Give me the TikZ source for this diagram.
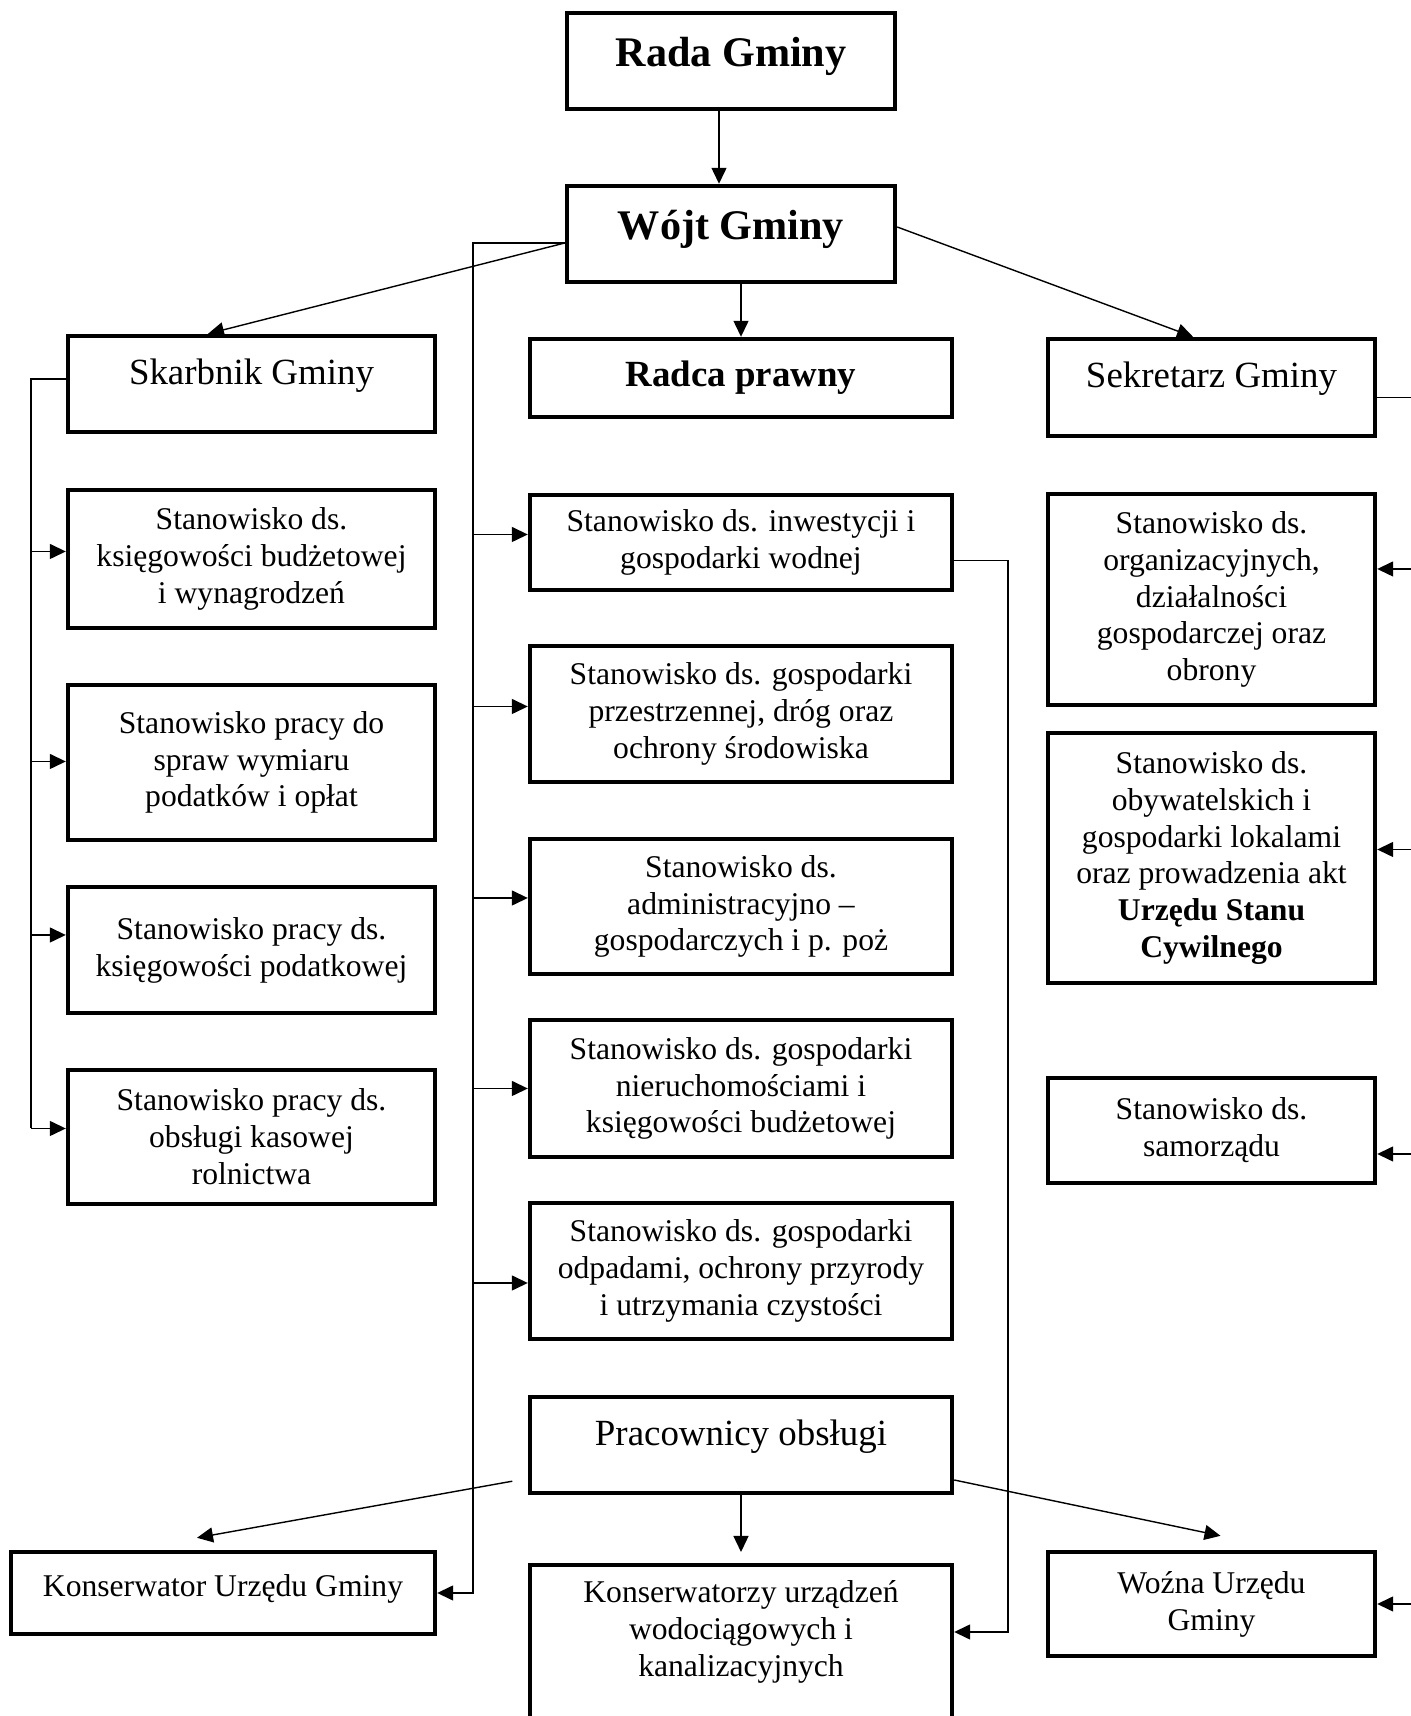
\documentclass[tikz,border=0pt]{standalone}
\usepackage{fontspec}
\setmainfont{Liberation Serif}
\usetikzlibrary{arrows.meta}

\begin{document}
\begin{tikzpicture}[
    box/.style={rectangle, draw=black, line width=2.5pt, fill=white,
        inner sep=2pt, align=center, font=\fontsize{18}{21}\selectfont},
    head/.style={box, font=\fontsize{24}{28}\selectfont\bfseries,
        minimum width=6.56cm, minimum height=1.92cm, text depth=0.35cm},
    chief/.style={box, font=\fontsize{21}{25}\selectfont},
    lbox/.style={box, minimum width=7.34cm},
    mbox/.style={box, minimum width=8.44cm},
    rbox/.style={box, minimum width=6.54cm},
    txt/.style={align=center, font=\fontsize{18}{21}\selectfont},
    edge/.style={line width=0.8pt, -},
    arrow/.style={line width=0.8pt, -{Triangle[length=0.32cm, width=0.3cm]}}
]
    \useasboundingbox (0,0) rectangle (28.2,34.32);

    \node[head] (rada) at (14.62,33.10) {Rada Gminy};
    \node[head] (wojt) at (14.62,29.64) {Wójt Gminy};
    \node[chief, minimum width=7.34cm, minimum height=1.92cm,
        text depth=0.5cm] (skarb) at (5.03,26.64) {Skarbnik Gminy};
    \node[chief, font=\fontsize{21}{25}\selectfont\bfseries,
        minimum width=8.44cm, minimum height=1.56cm] (radca) at (14.82,26.76) {Radca prawny};
    \node[chief, minimum width=6.54cm, minimum height=1.94cm,
        text depth=0.5cm] (sekr) at (24.23,26.57) {Sekretarz Gminy};

    % left column
    \node[lbox, minimum height=2.76cm] (l1) at (5.03,23.14)
        {Stanowisko ds.\\ księgowości budżetowej\\ i wynagrodzeń};
    \node[lbox, minimum height=3.10cm] (l2) at (5.03,19.07)
        {Stanowisko pracy do\\ spraw wymiaru\\ podatków i opłat};
    \node[lbox, minimum height=2.52cm] (l3) at (5.03,15.32)
        {Stanowisko pracy ds.\\ księgowości podatkowej};
    \node[lbox, minimum height=2.68cm] (l4) at (5.03,11.58)
        {Stanowisko pracy ds.\\ obsługi kasowej\\ rolnictwa};
    \node[box, minimum width=8.48cm, minimum height=1.64cm,
        text depth=0.3cm] (kug) at (4.46,2.46) {Konserwator Urzędu Gminy};

    % middle column
    \node[mbox, minimum height=1.90cm] (m1) at (14.82,23.47)
        {Stanowisko ds. inwestycji i\\ gospodarki wodnej};
    \node[mbox, minimum height=2.72cm] (m2) at (14.82,20.04)
        {Stanowisko ds. gospodarki\\ przestrzennej, dróg oraz\\ ochrony środowiska};
    \node[mbox, minimum height=2.70cm] (m3) at (14.82,16.19)
        {Stanowisko ds.\\ administracyjno –\\ gospodarczych i p. poż};
    \node[mbox, minimum height=2.74cm] (m4) at (14.82,12.55)
        {Stanowisko ds. gospodarki\\ nieruchomościami i\\ księgowości budżetowej};
    \node[mbox, minimum height=2.72cm] (m5) at (14.82,8.90)
        {Stanowisko ds. gospodarki\\ odpadami, ochrony przyrody\\ i utrzymania czystości};
    \node[chief, minimum width=8.44cm, minimum height=1.92cm,
        text depth=0.5cm] (prac) at (14.82,5.42) {Pracownicy obsługi};
    \node[mbox, minimum height=3.6cm, anchor=north] (kwod) at (14.82,3.06) {};
    \node[txt] (kwodtxt) at (14.82,1.68)
        {Konserwatorzy urządzeń\\ wodociągowych i\\ kanalizacyjnych};

    % right column
    \node[rbox, minimum height=4.22cm] (r1) at (24.23,22.33)
        {Stanowisko ds.\\ organizacyjnych,\\ działalności\\ gospodarczej oraz\\ obrony};
    \node[rbox, minimum height=5.00cm] (r2) at (24.23,17.16)
        {Stanowisko ds.\\ obywatelskich i\\ gospodarki lokalami\\ oraz prowadzenia akt\\
        \textbf{Urzędu Stanu}\\ \textbf{Cywilnego}};
    \node[rbox, minimum height=2.10cm] (r3) at (24.23,11.71)
        {Stanowisko ds.\\ samorządu};
    \node[rbox, minimum height=2.08cm] (wozna) at (24.23,2.24)
        {Woźna Urzędu\\ Gminy};

    % top links
    \draw[arrow] ([xshift=-0.24cm]rada.south) -- ([xshift=-0.24cm]wojt.north);
    \draw[arrow] (wojt.south -| radca.north) -- (radca.north);
    \coordinate (wl) at ([yshift=-0.18cm]wojt.west);
    \coordinate (wr) at ([yshift=0.14cm]wojt.east);
    \draw[arrow] (wl) -- ([xshift=-0.87cm]skarb.north);
    \draw[arrow] (wr) -- ([xshift=-0.37cm]sekr.north);

    % Skarbnik bus
    \coordinate (sbus) at (0.62,0);
    \coordinate (l1in) at ([yshift=0.15cm]l1.west);
    \coordinate (l2in) at ([yshift=0.02cm]l2.west);
    \coordinate (l3in) at ([yshift=0.3cm]l3.west);
    \coordinate (l4in) at ([yshift=0.17cm]l4.west);
    \draw[edge] ([yshift=0.1cm]skarb.west) -| (sbus |- l4in);
    \draw[arrow] (sbus |- l1in) -- (l1in);
    \draw[arrow] (sbus |- l2in) -- (l2in);
    \draw[arrow] (sbus |- l3in) -- (l3in);
    \draw[arrow] (sbus |- l4in) -- (l4in);

    % Wojt bus
    \coordinate (lbus) at (9.46,0);
    \coordinate (m1in) at ([yshift=0.16cm]m1.west);
    \coordinate (m2in) at ([yshift=0.15cm]m2.west);
    \coordinate (m3in) at ([yshift=0.17cm]m3.west);
    \coordinate (m5in) at ([yshift=-0.24cm]m5.west);
    \draw[arrow] (wl) -| (lbus |- kug.east) -- (kug.east);
    \draw[arrow] (lbus |- m1in) -- (m1in);
    \draw[arrow] (lbus |- m2in) -- (m2in);
    \draw[arrow] (lbus |- m3in) -- (m3in);
    \draw[arrow] (m4.west -| lbus) -- (m4.west);
    \draw[arrow] (lbus |- m5in) -- (m5in);

    % inwestycje -> konserwatorzy
    \coordinate (mbus) at (20.16,0);
    \draw[arrow] ([yshift=-0.36cm]m1.east) -| (mbus |- kwodtxt) -- (kwod.east |- kwodtxt);

    % Sekretarz bus
    \coordinate (rbus) at (28.45,0);
    \coordinate (r1in) at ([yshift=0.61cm]r1.east);
    \coordinate (r2in) at ([yshift=0.17cm]r2.east);
    \coordinate (r3in) at ([yshift=-0.47cm]r3.east);
    \draw[edge] ([yshift=-0.2cm]sekr.east) -| (rbus |- wozna.east);
    \draw[arrow] (rbus |- r1in) -- (r1in);
    \draw[arrow] (rbus |- r2in) -- (r2in);
    \draw[arrow] (rbus |- r3in) -- (r3in);
    \draw[arrow] (wozna.east -| rbus) -- (wozna.east);

    % Pracownicy obslugi
    \coordinate (pl) at ([xshift=-0.31cm, yshift=0.28cm]prac.south west);
    \draw[arrow] (pl) -- ([xshift=-0.52cm, yshift=0.24cm]kug.north);
    \draw[arrow] (prac.south) -- ([yshift=0.22cm]kwod.north);
    \draw[arrow] ([yshift=-0.7cm]prac.east) -- ([xshift=0.18cm, yshift=0.28cm]wozna.north);
\end{tikzpicture}
\end{document}
